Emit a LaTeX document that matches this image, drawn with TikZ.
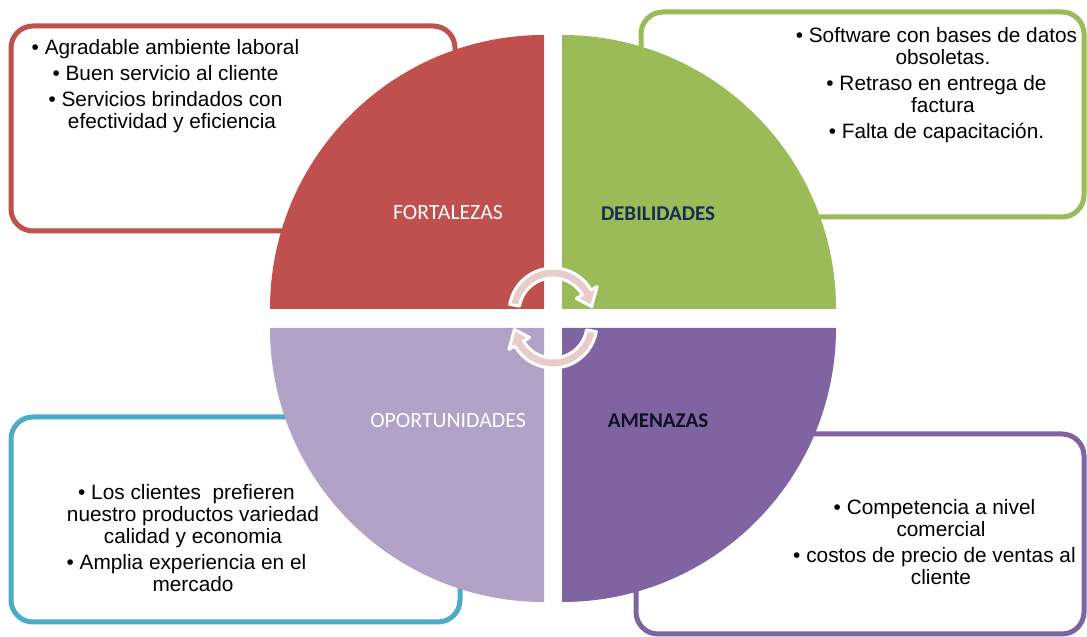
\documentclass[tikz,border=0pt]{standalone}
\usepackage{fontspec}
\newfontfamily\listfont{Liberation Sans}
\newfontfamily\quadfont{Carlito}

\definecolor{fortred}{RGB}{192,80,77}
\definecolor{debgreen}{RGB}{155,187,89}
\definecolor{oporlila}{RGB}{178,162,199}
\definecolor{amepurple}{RGB}{128,100,162}
\definecolor{oporblue}{RGB}{75,172,198}
\definecolor{arrowpink}{RGB}{232,204,204}
\definecolor{debnavy}{RGB}{23,45,80}
\definecolor{amenavy}{RGB}{15,15,35}

\tikzset{
  listbox/.style={line width=5pt, rounded corners=22pt},
  listtext/.style={font=\listfont\fontsize{20.8}{22}\selectfont, align=center, inner sep=0pt, anchor=north},
  quadlabel/.style={font=\quadfont\fontsize{21.8}{24}\selectfont, inner sep=0pt},
  quadbold/.style={font=\quadfont\bfseries\fontsize{21}{24}\selectfont, inner sep=0pt},
  turnarrow/.style={fill=arrowpink, draw=white, line width=3pt, line join=round}
}

\begin{document}
\begin{tikzpicture}[x=1pt,y=1pt]
  \fill[white] (0,0) rectangle (1087,637);
  \useasboundingbox (0,0) rectangle (1087,637);

  % boxes (behind the circle)
  \draw[listbox, fortred] (11,406) rectangle (455,611);
  \draw[listbox, debgreen] (641,420) rectangle (1084,625);
  \draw[listbox, oporblue] (11,15) rectangle (460,220);
  \draw[listbox, amepurple] (636,3) rectangle (1084,203);

  % quadrants
  \fill[fortred] (544,328) -- (270,328) arc[start angle=180, end angle=90, radius=274pt] -- cycle;
  \fill[debgreen] (562,328) -- (562,602) arc[start angle=90, end angle=0, radius=274pt] -- cycle;
  \fill[oporlila] (544,309) -- (544,35) arc[start angle=270, end angle=180, radius=274pt] -- cycle;
  \fill[amepurple] (562,309) -- (836,309) arc[start angle=0, end angle=-90, radius=274pt] -- cycle;

  \node[quadlabel, white] (fortalezas) at (448,424) {FORTALEZAS};
  \node[quadbold, debnavy] (debilidades) at (658,423) {DEBILIDADES};
  \node[quadlabel, white] (oportunidades) at (448,216) {OPORTUNIDADES};
  \node[quadbold, amenavy] (amenazas) at (658,216) {AMENAZAS};

  \begin{scope}[shift={(553,325)}]
    \filldraw[turnarrow] (170:44) arc[start angle=170, end angle=30, radius=44pt]
      -- (30:51) -- (8:39) -- (30:27) -- (30:34)
      arc[start angle=30, end angle=170, radius=34pt] -- cycle;
  \end{scope}

  \begin{scope}[shift={(553,313)}, rotate=180]
    \filldraw[turnarrow] (170:44) arc[start angle=170, end angle=30, radius=44pt]
      -- (30:51) -- (8:39) -- (30:27) -- (30:34)
      arc[start angle=30, end angle=170, radius=34pt] -- cycle;
  \end{scope}

  % lists
  \node[listtext] (fortext) at (172,598) {\llap{•\ }Agradable ambiente laboral\\[4pt]
    \llap{•\ }Buen servicio al cliente\\[4pt]
    \llap{•\ }Servicios brindados con\\ efectividad y eficiencia};
  \node[listtext] (debtext) at (943,610) {\llap{•\ }Software con bases de datos\\ obsoletas.\\[4pt]
    \llap{•\ }Retraso en entrega de\\ factura\\[4pt]
    \llap{•\ }Falta de capacitación.};
  \node[listtext] (oportext) at (193,153) {\llap{•\ }Los clientes\ \ prefieren\\ nuestro productos variedad\\ calidad y economia\\[4pt]
    \llap{•\ }Amplia experiencia en el\\ mercado};
  \node[listtext] (ametext) at (941,138) {\llap{•\ }Competencia a nivel\\ comercial\\[4pt]
    \llap{•\ }costos de precio de ventas al\\ cliente};
\end{tikzpicture}
\end{document}
